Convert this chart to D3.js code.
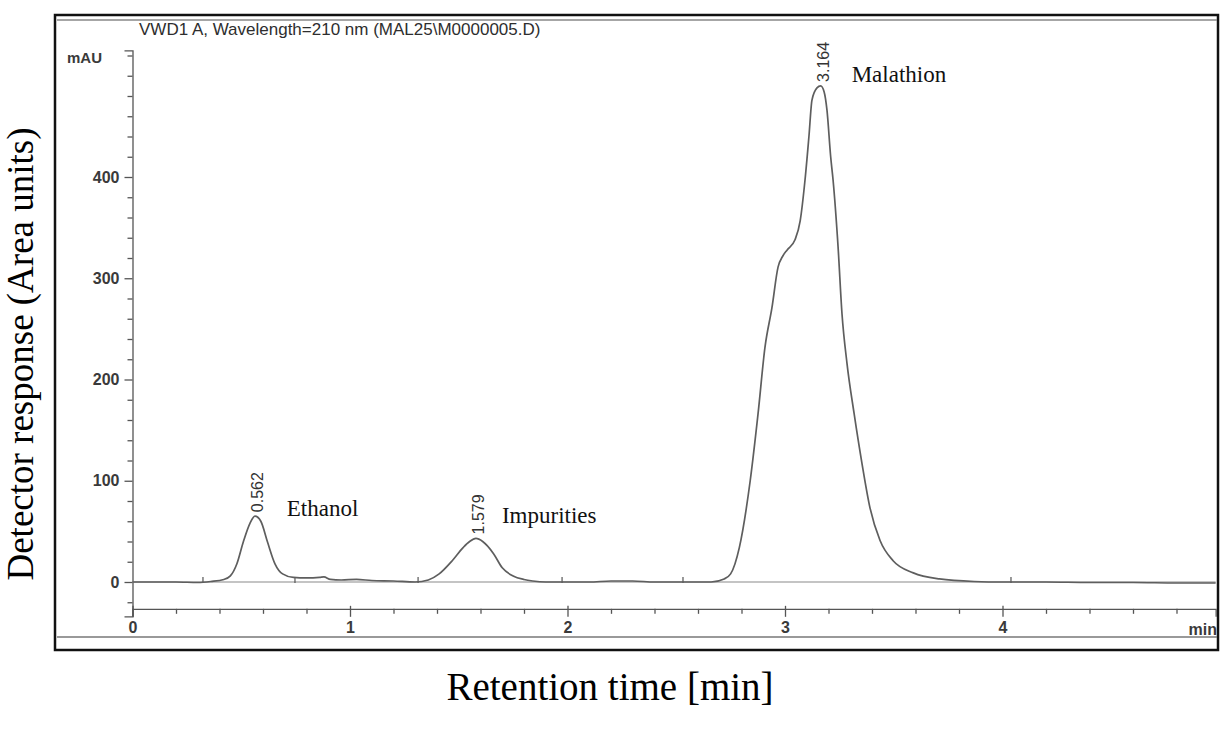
<!DOCTYPE html>
<html>
<head>
<meta charset="utf-8">
<script src="https://d3js.org/d3.v7.min.js"></script>
<style>
body { margin: 0; background: #fff; }
</style>
</head>
<body onload="drawChart()">
<svg id="main" width="1222" height="731"></svg>
<script>
// trace, time in min / signal in mAU
var retTime = [0.00, 0.10, 0.20, 0.30, 0.36, 0.42, 0.45, 0.48, 0.51, 0.54, 0.563, 0.59, 0.62, 0.655, 0.69,
               0.74, 0.80, 0.86, 0.88, 0.91, 0.96, 1.03, 1.10, 1.20, 1.30, 1.36, 1.41, 1.47, 1.52, 1.55,
               1.579, 1.61, 1.66, 1.70, 1.75, 1.80, 1.84, 1.90, 2.00, 2.10, 2.20, 2.30, 2.40, 2.52, 2.66,
               2.72, 2.75, 2.79, 2.84, 2.876, 2.908, 2.94, 2.968, 2.99, 3.01, 3.046, 3.07, 3.092, 3.11, 3.124,
               3.147, 3.164, 3.18, 3.193, 3.21, 3.221, 3.244, 3.262, 3.285, 3.318, 3.354, 3.391, 3.437, 3.497, 3.59,
               3.71, 3.87, 4.00, 4.20, 4.40, 4.60, 4.80, 4.98];
var signal = [0, 0, 0, -0.5, 0.5, 2.5, 6, 18, 40, 58, 65, 60, 40, 18, 8,
              4.5, 4, 4.5, 5, 2.5, 2, 2.5, 1.5, 1, 0, 2, 8, 21, 34, 40,
              43, 40, 28, 14, 6, 2.5, 1, 0, 0, 0, 1, 1, 0, 0, 0,
              3, 8, 34, 100, 166, 232, 271, 311, 322, 328, 338, 357, 397, 440, 476,
              488, 490, 484, 466, 420, 397, 331, 265, 216, 166, 117, 73, 41, 21, 9,
              3, 0.5, 0, 0, -0.5, -0.5, -1, -1];

var peakNames = ["Ethanol", "Impurities", "Malathion"];
var peakTimes = [0.562, 1.579, 3.164];
var peakHeights = [65, 43, 490];
// integration marks on the baseline
var eventTimes = [0.324, 0.747, 1.313, 1.975, 2.531, 4.039];

var yTicks = [0, 100, 200, 300, 400];
var xTicks = [0, 1, 2, 3, 4];
var yMinor = [-20, 20, 40, 60, 80, 120, 140, 160, 180, 220, 240, 260, 280, 320, 340, 360, 380, 420, 440, 460, 480, 500, 520];
var xMinor = [0.2, 0.4, 0.6, 0.8, 1.2, 1.4, 1.6, 1.8, 2.2, 2.4, 2.6, 2.8, 3.2, 3.4, 3.6, 3.8, 4.2, 4.4, 4.6, 4.8];

var plotTitle = "VWD1 A, Wavelength=210 nm (MAL25\\M0000005.D)";
var yTitle = "Detector response (Area units)";
var xTitle = "Retention time [min]";

var pxPerMau = 1.0125;
var x = d3.scaleLinear().domain([0, 4.98]).range([132.5, 132.5 + 4.98 * 217.5]);
var y = d3.scaleLinear().domain([-34, 525]).range([582 + 34 * pxPerMau, 582 - 525 * pxPerMau]);

function drawChart()
{
    var svg = d3.select("body").select("#main");

    // frame of the printout
    svg.append("rect")
        .attr("x", 55).attr("y", 15)
        .attr("width", 1163).attr("height", 635)
        .attr("fill", "none")
        .attr("stroke", "#111")
        .attr("stroke-width", 2.5);
    svg.append("line")
        .attr("x1", 57).attr("x2", 1217).attr("y1", 20).attr("y2", 20)
        .attr("stroke", "#888").attr("stroke-width", 1.5);
    svg.append("line")
        .attr("x1", 57).attr("x2", 1217).attr("y1", 637).attr("y2", 637)
        .attr("stroke", "#777").attr("stroke-width", 1.5);

    svg.append("text")
        .text(plotTitle)
        .attr("x", 139).attr("y", 35)
        .attr("font-family", "Liberation Sans, Arial, sans-serif")
        .attr("font-size", "17px")
        .attr("fill", "#2e2e2e");

    svg.append("text")
        .text("mAU")
        .attr("x", 67).attr("y", 63)
        .attr("font-family", "Liberation Sans, Arial, sans-serif")
        .attr("font-size", "15px")
        .attr("font-weight", "bold")
        .attr("fill", "#3a3a3a");

    // y axis, major + minor
    var yAxis = svg.append("g")
        .attr("transform", "translate(" + x(0) + ",0)")
        .call(d3.axisLeft(y).tickValues(yTicks).tickSize(8).tickPadding(5).tickFormat(d3.format("d")));
    var yAxis2 = svg.append("g")
        .attr("transform", "translate(" + x(0) + ",0)")
        .call(d3.axisLeft(y).tickValues(yMinor).tickSize(5).tickFormat(""));
    yAxis2.select(".domain").remove();

    // zero line
    svg.append("line")
        .attr("x1", x(0)).attr("x2", x(4.98))
        .attr("y1", y(0)).attr("y2", y(0))
        .attr("stroke", "#8a8a8a").attr("stroke-width", 1.2);

    // x axis sits a bit under zero
    var xAxis = svg.append("g")
        .attr("transform", "translate(0," + y(-26.5) + ")")
        .call(d3.axisBottom(x).tickValues(xTicks).tickSize(8).tickPadding(5).tickFormat(d3.format("d")));
    xAxis.selectAll(".tick line").attr("y1", -3);
    var xAxis2 = svg.append("g")
        .attr("transform", "translate(0," + y(-26.5) + ")")
        .call(d3.axisBottom(x).tickValues(xMinor).tickSize(5).tickFormat(""));
    xAxis2.select(".domain").remove();

    svg.selectAll(".domain, .tick line")
        .attr("stroke", "#555")
        .attr("stroke-width", 1.3);
    svg.selectAll(".tick text")
        .attr("font-family", "Liberation Sans, Arial, sans-serif")
        .attr("font-size", "16px")
        .attr("font-weight", "bold")
        .attr("fill", "#3a3a3a");

    svg.append("text")
        .text("min")
        .attr("x", 1217).attr("y", 635)
        .attr("text-anchor", "end")
        .attr("font-family", "Liberation Sans, Arial, sans-serif")
        .attr("font-size", "16px")
        .attr("font-weight", "bold")
        .attr("fill", "#3a3a3a");

    // baseline event marks
    svg.selectAll(".event")
        .data(eventTimes)
        .enter().append("line")
        .attr("class", "event")
        .attr("x1", function(d) { return x(d); })
        .attr("x2", function(d) { return x(d); })
        .attr("y1", y(5))
        .attr("y2", y(-1))
        .attr("stroke", "#555")
        .attr("stroke-width", 1.2);

    var pts = retTime.map(function(t, i) { return [t, signal[i]]; });
    var line = d3.line()
        .x(function(d) { return x(d[0]); })
        .y(function(d) { return y(d[1]); })
        .curve(d3.curveMonotoneX);
    svg.append("path")
        .attr("d", line(pts))
        .attr("fill", "none")
        .attr("stroke", "#5e5e5e")
        .attr("stroke-width", 1.7);

    // retention time labels, rotated over each apex
    peakTimes.forEach(function(t, i) {
        var px = x(t) + 8;
        var py = y(peakHeights[i]) - 4;
        svg.append("text")
            .text(d3.format(".3f")(t))
            .attr("transform", "translate(" + px + "," + py + ") rotate(-90)")
            .attr("font-family", "Liberation Sans, Arial, sans-serif")
            .attr("font-size", "16px")
            .attr("fill", "#333");
    });

    // compound names
    var nameShift = [[32, 0], [26, -15], [31, -4]];
    peakNames.forEach(function(n, i) {
        svg.append("text")
            .text(n)
            .attr("x", x(peakTimes[i]) + nameShift[i][0])
            .attr("y", y(peakHeights[i]) + nameShift[i][1])
            .attr("font-family", "Liberation Serif, Times New Roman, serif")
            .attr("font-size", "23px")
            .attr("fill", "#111");
    });

    // outer titles
    svg.append("text")
        .text(yTitle)
        .attr("transform", "translate(33,354) rotate(-90)")
        .attr("text-anchor", "middle")
        .attr("font-family", "Liberation Serif, Times New Roman, serif")
        .attr("font-size", "37px")
        .attr("fill", "#000");
    svg.append("text")
        .text(xTitle)
        .attr("x", 610).attr("y", 700)
        .attr("text-anchor", "middle")
        .attr("font-family", "Liberation Serif, Times New Roman, serif")
        .attr("font-size", "39px")
        .attr("fill", "#000");
}
</script>
</body>
</html>
